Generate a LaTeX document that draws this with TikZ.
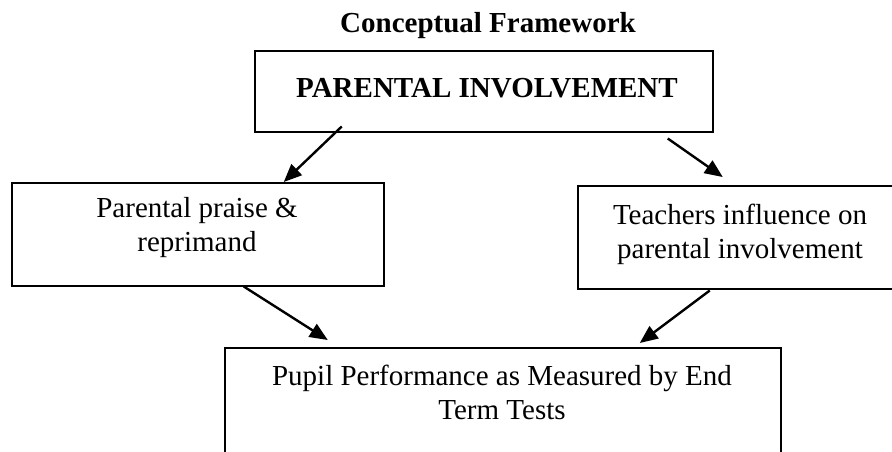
\documentclass[tikz,border=0pt]{standalone}
\usepackage{fontspec}
\setmainfont{Liberation Serif}
\usetikzlibrary{arrows.meta}

\begin{document}
\begin{tikzpicture}[x=0.5pt, y=-0.5pt,
    boxed/.style={draw, line width=0.75pt, rectangle, inner sep=0pt, anchor=north west},
    boxtext/.style={align=center, inner sep=0pt, font=\fontsize{14.5}{17}\selectfont},
    arr/.style={line width=1.2pt, -{Triangle[length=9pt,width=7.5pt]}}]

    \clip (0,0) rectangle (892,451);

    \node[boxtext, font=\fontsize{14.5}{17}\selectfont\bfseries, anchor=base] (title) at (488,32) {Conceptual Framework};

    \node[boxed, minimum width=229pt, minimum height=40.5pt] (invol) at (254,50) {};
    \node[boxed, minimum width=186pt, minimum height=51.5pt] (praise) at (11,182) {};
    \node[boxed, minimum width=163pt, minimum height=51.5pt] (teach) at (577,185) {};
    \node[boxed, minimum width=278pt, minimum height=75pt] (pupil) at (224,347) {};

    \node[boxtext, font=\fontsize{14.5}{17}\selectfont\bfseries, anchor=base] (involtxt) at (487,97) {PARENTAL INVOLVEMENT};
    \node[boxtext, anchor=north] (praisetxt) at (197,197) {Parental praise \&\\reprimand};
    \node[boxtext, anchor=north] (teachtxt) at (740,204) {Teachers influence on\\parental involvement};
    \node[boxtext, anchor=north] (pupiltxt) at (502,365) {Pupil Performance as Measured by End\\Term Tests};

    \draw[arr] ([shift={(-142,-6)}]invol.south) -- ([shift={(86,0)}]praise.north);
    \draw[arr] ([shift={(184,6)}]invol.south) -- ([shift={(-18,-8)}]teach.north);
    \draw[arr] ([shift={(46,0)}]praise.south) -- ([shift={(-175,-7)}]pupil.north);
    \draw[arr] ([shift={(-31,1)}]teach.south) -- ([shift={(137,-4)}]pupil.north);

\end{tikzpicture}
\end{document}
